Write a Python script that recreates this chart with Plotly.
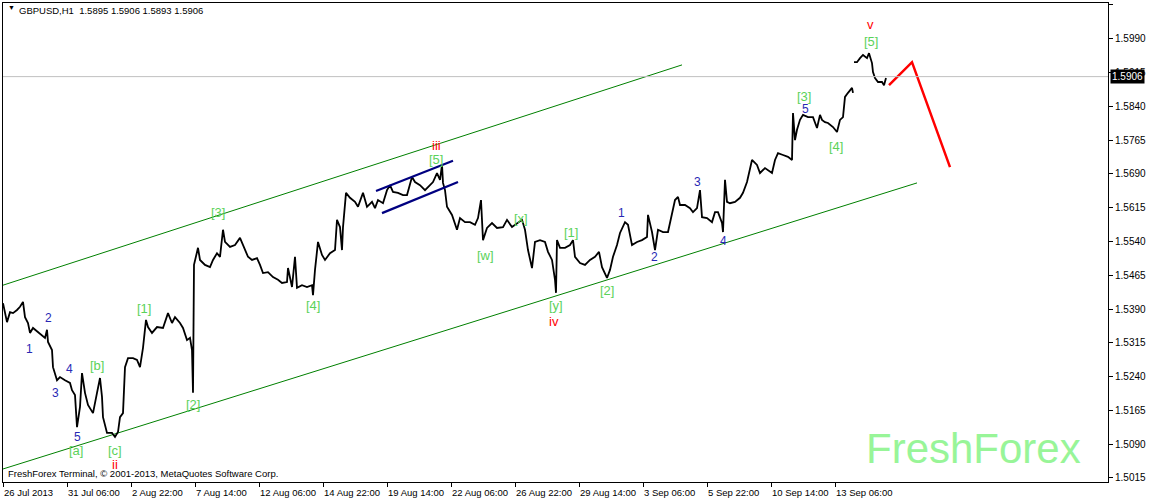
import plotly.graph_objects as go

# ---------------- data ----------------
symbol_title = "GBPUSD,H1  1.5895 1.5906 1.5893 1.5906"
last_price = 1.5906

# hourly bar index (trading hours since 26 Jul 2013) and price
hours = [0, 4, 7, 10, 14, 17, 20, 22, 25, 27, 30, 35, 39, 42, 44, 45, 49, 50, 54, 57,
         62, 67, 69, 72, 74, 77, 79, 82, 85, 90, 94, 97, 99, 100, 104, 109, 112, 115, 117, 120,
         122, 125, 130, 134, 137, 140, 143, 145, 149, 154, 160, 165, 169, 172, 177, 180, 184, 187, 189, 190,
         191, 195, 197, 202, 207, 210, 214, 217, 220, 222, 227, 232, 237, 239, 242, 245, 249, 254, 257, 260,
         265, 270, 275, 279, 284, 285, 289, 292, 294, 299, 304, 309, 310, 312, 315, 319, 322, 327, 332, 334,
         337, 339, 340, 343, 347, 352, 355, 360, 364, 369, 372, 375, 380, 384, 387, 390, 395, 400, 404, 405,
         409, 412, 417, 422, 427, 430, 434, 437, 439, 440, 442, 444, 449, 454, 457, 462, 467, 472, 475, 478,
         480, 484, 489, 494, 500, 504, 509, 514, 519, 522, 525, 529, 532, 537, 542, 545, 549, 552, 553, 554,
         557, 562, 567, 570, 572, 577, 582, 587, 592, 596, 599, 604, 607, 610, 614, 617, 622, 625, 629, 634,
         639, 644, 645, 649, 652, 655, 660, 665, 669, 672, 675, 677, 682, 687, 690, 694, 697, 699, 704, 709,
         712, 715, 719, 720, 722, 724, 727, 732, 737, 740, 744, 747, 749, 754, 757, 762, 769, 772, 775, 780,
         785, 789, 790, 792, 794, 797, 800, 805, 810, 814, 817, 819, 822, 825, 830, 834, 837, 840, 842, 845,
         849, 850, 850.5, 851, 854, 857, 860, 864, 866, 869, 870, 872, 875, 879, 881, 883]
prices = [1.5403, 1.5361, 1.5383, 1.5381, 1.5388, 1.5395, 1.5406, 1.5372, 1.5359, 1.5337, 1.5348, 1.5339, 1.5332, 1.5326, 1.5344, 1.5317, 1.5299, 1.5261, 1.5232, 1.5239,
          1.5232, 1.5226, 1.5210, 1.5199, 1.5128, 1.5173, 1.5248, 1.5204, 1.5177, 1.5159, 1.5204, 1.5237, 1.5195, 1.5150, 1.5115, 1.5115, 1.5106, 1.5117, 1.5150, 1.5159,
          1.5261, 1.5281, 1.5281, 1.5277, 1.5261, 1.5304, 1.5366, 1.5350, 1.5337, 1.5350, 1.5348, 1.5381, 1.5359, 1.5372, 1.5359, 1.5348, 1.5321, 1.5326, 1.5299, 1.5204,
          1.5488, 1.5526, 1.5499, 1.5488, 1.5483, 1.5499, 1.5514, 1.5506, 1.5566, 1.5539, 1.5528, 1.5532, 1.5548, 1.5537, 1.5521, 1.5506, 1.5499, 1.5503, 1.5488, 1.5470,
          1.5472, 1.5461, 1.5455, 1.5448, 1.5450, 1.5481, 1.5439, 1.5506, 1.5437, 1.5443, 1.5439, 1.5443, 1.5421, 1.5477, 1.5539, 1.5510, 1.5499, 1.5514, 1.5521, 1.5588,
          1.5572, 1.5521, 1.5572, 1.5648, 1.5637, 1.5628, 1.5617, 1.5648, 1.5617, 1.5628, 1.5614, 1.5632, 1.5625, 1.5654, 1.5665, 1.5650, 1.5648, 1.5643, 1.5643, 1.5650,
          1.5683, 1.5672, 1.5665, 1.5654, 1.5665, 1.5672, 1.5692, 1.5677, 1.5710, 1.5670, 1.5654, 1.5617, 1.5599, 1.5566, 1.5592, 1.5583, 1.5583, 1.5577, 1.5592, 1.5632,
          1.5543, 1.5570, 1.5581, 1.5570, 1.5572, 1.5588, 1.5572, 1.5581, 1.5588, 1.5566, 1.5521, 1.5481, 1.5539, 1.5543, 1.5539, 1.5517, 1.5499, 1.5455, 1.5426, 1.5543,
          1.5526, 1.5526, 1.5532, 1.5543, 1.5506, 1.5492, 1.5488, 1.5499, 1.5506, 1.5517, 1.5483, 1.5459, 1.5477, 1.5506, 1.5532, 1.5559, 1.5583, 1.5577, 1.5532, 1.5539,
          1.5543, 1.5550, 1.5599, 1.5561, 1.5521, 1.5566, 1.5561, 1.5561, 1.5603, 1.5632, 1.5639, 1.5621, 1.5621, 1.5614, 1.5605, 1.5614, 1.5654, 1.5594, 1.5592, 1.5583,
          1.5605, 1.5605, 1.5581, 1.5561, 1.5677, 1.5628, 1.5625, 1.5628, 1.5637, 1.5648, 1.5672, 1.5705, 1.5721, 1.5710, 1.5692, 1.5703, 1.5692, 1.5721, 1.5736, 1.5732,
          1.5728, 1.5721, 1.5825, 1.5765, 1.5788, 1.5810, 1.5821, 1.5816, 1.5816, 1.5792, 1.5821, 1.5810, 1.5805, 1.5803, 1.5794, 1.5783, 1.5810, 1.5816, 1.5861, 1.5870,
          1.5881, 1.5870, None, 1.5938, 1.5938, 1.5947, 1.5954, 1.5947, 1.5958, 1.5936, 1.5916, 1.5903, 1.5894, 1.5894, 1.5887, 1.5903]

# trend channel (green) and small flag channel (navy)
channel_upper_x = [0, 679]
channel_upper_y = [1.5443, 1.5932]
channel_lower_x = [0, 914]
channel_lower_y = [1.5035, 1.5670]
flag_upper_x = [373, 450]
flag_upper_y = [1.5652, 1.5719]
flag_lower_x = [379, 455]
flag_lower_y = [1.5603, 1.5672]

# forecast path (red)
forecast_x = [886, 909, 947]
forecast_y = [1.5887, 1.5938, 1.5705]

# wave labels: (text, hour, price)
blue_labels = [("1", 26, 1.5301), ("2", 45, 1.5370), ("3", 52, 1.5204), ("4", 66, 1.5257),
               ("5", 74, 1.5106), ("1", 618, 1.5603), ("2", 651, 1.5506), ("3", 694, 1.5672),
               ("4", 720, 1.5541), ("5", 802, 1.5834)]
green_labels = [("[a]", 73, 1.5075), ("[b]", 94, 1.5264), ("[c]", 112, 1.5075), ("[1]", 141, 1.5392),
                ("[2]", 190, 1.5179), ("[3]", 215, 1.5605), ("[4]", 310, 1.5399), ("[5]", 433, 1.5723),
                ("[w]", 482, 1.5510), ("[x]", 518, 1.5590), ("[1]", 568, 1.5559), ("[y]", 553, 1.5399),
                ("[2]", 604, 1.5432), ("[3]", 801, 1.5861), ("[4]", 833, 1.5750), ("[5]", 868, 1.5985)]
red_labels = [("ii", 112, 1.5044), ("iii", 433, 1.5752), ("iv", 551, 1.5363), ("v", 867, 1.6021)]

# axes
date_ticks = [0, 64, 128, 192, 256, 320, 384, 448, 512, 576, 640, 704, 768, 832]
date_labels = ["26 Jul 2013", "31 Jul 06:00", "2 Aug 22:00", "7 Aug 14:00", "12 Aug 06:00",
               "14 Aug 22:00", "19 Aug 14:00", "22 Aug 06:00", "26 Aug 22:00", "29 Aug 14:00",
               "3 Sep 06:00", "5 Sep 22:00", "10 Sep 14:00", "13 Sep 06:00"]
price_ticks = [1.5015, 1.5090, 1.5165, 1.5240, 1.5315, 1.5390, 1.5465, 1.5540,
               1.5615, 1.5690, 1.5765, 1.5840, 1.5915, 1.5990, 1.6065]

# ---------------- figure ----------------
FONT = "Liberation Sans"
fig = go.Figure()

fig.add_trace(go.Scatter(x=channel_upper_x, y=channel_upper_y, mode="lines",
                         line=dict(color="#008000", width=1), hoverinfo="skip"))
fig.add_trace(go.Scatter(x=channel_lower_x, y=channel_lower_y, mode="lines",
                         line=dict(color="#008000", width=1), hoverinfo="skip"))
fig.add_trace(go.Scatter(x=hours, y=prices, mode="lines", connectgaps=False,
                         line=dict(color="black", width=1.8)))
fig.add_trace(go.Scatter(x=flag_upper_x, y=flag_upper_y, mode="lines",
                         line=dict(color="#000080", width=2.2), hoverinfo="skip"))
fig.add_trace(go.Scatter(x=flag_lower_x, y=flag_lower_y, mode="lines",
                         line=dict(color="#000080", width=2.2), hoverinfo="skip"))
fig.add_trace(go.Scatter(x=forecast_x, y=forecast_y, mode="lines",
                         line=dict(color="#FF0000", width=2.5), hoverinfo="skip"))

fig.add_hline(y=last_price, line=dict(color="#C0C0C0", width=1))

ann = []
for t, x, y in blue_labels:
    ann.append(dict(x=x, y=y, text=t, showarrow=False, font=dict(family=FONT, size=12, color="#2828B4")))
for t, x, y in green_labels:
    ann.append(dict(x=x, y=y, text=t, showarrow=False, font=dict(family=FONT, size=13, color="#5AD25A")))
for t, x, y in red_labels:
    ann.append(dict(x=x, y=y, text=t, showarrow=False, font=dict(family=FONT, size=13, color="#FF0000")))

for x, t in zip(date_ticks, date_labels):
    ann.append(dict(x=x, y=0, xref="x", yref="paper", text=t, showarrow=False,
                    xanchor="left", yanchor="top", yshift=-3, xshift=-1,
                    font=dict(family=FONT, size=9.5, color="black")))

# title
ann.append(dict(x=0.003, y=0.99, xref="paper", yref="paper", text="▼", showarrow=False,
                xanchor="left", yanchor="middle", font=dict(family=FONT, size=7, color="black")))
ann.append(dict(x=0.013, y=0.985, xref="paper", yref="paper", text=symbol_title, showarrow=False,
                xanchor="left", yanchor="middle", font=dict(family=FONT, size=9.5, color="black")))
# copyright
ann.append(dict(x=0.003, y=0.017, xref="paper", yref="paper",
                text="FreshForex Terminal, © 2001-2013, MetaQuotes Software Corp.", showarrow=False,
                xanchor="left", yanchor="middle", font=dict(family=FONT, size=9.5, color="black")))
# watermark
ann.append(dict(x=0.977, y=0.07, xref="paper", yref="paper", text="FreshForex", showarrow=False,
                xanchor="right", yanchor="middle", font=dict(family=FONT, size=42, color="#98F598")))
# current price box
ann.append(dict(x=1.0, y=last_price, xref="paper", yref="y", text=f"{last_price:.4f}", showarrow=False,
                xanchor="left", yanchor="middle", xshift=2, bgcolor="black", borderpad=1,
                font=dict(family=FONT, size=10, color="white")))

fig.update_layout(
    width=1149, height=500,
    margin=dict(l=3, r=41, t=3, b=18, autoexpand=False),
    paper_bgcolor="white", plot_bgcolor="white",
    showlegend=False,
    annotations=ann,
    xaxis=dict(range=[0, 1105], showgrid=False, zeroline=False, automargin=False,
               tickmode="array", tickvals=date_ticks, showticklabels=False,
               ticks="outside", ticklen=4, tickcolor="black",
               showline=True, linecolor="black", linewidth=1, mirror=True),
    yaxis=dict(range=[1.50061, 1.60694], side="right", showgrid=False, zeroline=False,
               automargin=False,
               tickmode="array", tickvals=price_ticks,
               ticktext=[f"{v:.4f}" for v in price_ticks],
               ticks="outside", ticklen=4, tickcolor="black",
               tickfont=dict(family=FONT, size=10, color="black"),
               showline=True, linecolor="black", linewidth=1, mirror=True),
)

fig.write_html("out.html", config={"displayModeBar": False},
               post_script="document.body.style.margin='0';document.body.style.overflow='hidden';")
